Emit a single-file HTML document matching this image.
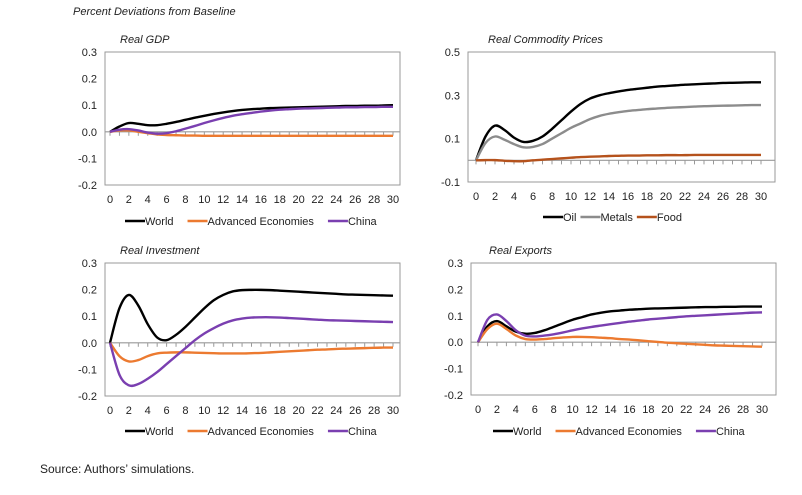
<!DOCTYPE html>
<html><head><meta charset="utf-8"><style>
body{margin:0;background:#fff;width:802px;height:490px;overflow:hidden;font-family:"Liberation Sans",Arial,sans-serif}
svg text{font-family:"Liberation Sans",Arial,sans-serif}
</style></head><body>
<svg id="s" width="802" height="490">
<text x="73" y="15" font-size="11" font-style="italic" fill="#222">Percent Deviations from Baseline</text>
<text x="40" y="473" font-size="12" fill="#222">Source: Authors’ simulations.</text>
</svg>
<script>
const periods=[...Array(31).keys()];
const gdpWorld=[0,0.02,0.033,0.03,0.025,0.025,0.03,0.037,0.045,0.053,0.06,0.067,0.073,0.078,0.082,0.085,0.087,0.089,0.09,0.091,0.092,0.093,0.094,0.095,0.096,0.097,0.097,0.098,0.098,0.099,0.1];
const gdpAdv=[0,0.005,0.005,0,-0.005,-0.01,-0.012,-0.013,-0.014,-0.014,-0.015,-0.015,-0.015,-0.015,-0.015,-0.015,-0.015,-0.015,-0.015,-0.015,-0.015,-0.015,-0.015,-0.015,-0.015,-0.015,-0.015,-0.015,-0.015,-0.015,-0.015];
const gdpChina=[0,0.008,0.01,0.005,-0.003,-0.007,-0.005,0.002,0.012,0.022,0.033,0.043,0.052,0.06,0.066,0.071,0.076,0.08,0.083,0.085,0.087,0.088,0.089,0.09,0.091,0.092,0.092,0.093,0.093,0.094,0.094];
const oil=[0,0.11,0.16,0.14,0.105,0.085,0.09,0.11,0.145,0.185,0.225,0.26,0.285,0.3,0.31,0.318,0.325,0.33,0.335,0.34,0.343,0.346,0.349,0.351,0.353,0.355,0.357,0.358,0.359,0.36,0.36];
const metals=[0,0.08,0.11,0.095,0.075,0.06,0.062,0.075,0.1,0.125,0.15,0.17,0.19,0.205,0.215,0.222,0.228,0.232,0.236,0.239,0.242,0.244,0.246,0.248,0.25,0.251,0.252,0.253,0.254,0.255,0.255];
const food=[0,0.001,0.001,-0.002,-0.004,-0.004,0,0.003,0.006,0.009,0.012,0.015,0.017,0.018,0.02,0.021,0.022,0.022,0.023,0.023,0.024,0.024,0.024,0.025,0.025,0.025,0.025,0.025,0.025,0.025,0.025];
const invWorld=[0,0.13,0.18,0.14,0.07,0.02,0.01,0.03,0.06,0.095,0.13,0.16,0.18,0.193,0.198,0.199,0.199,0.198,0.196,0.194,0.192,0.19,0.188,0.186,0.184,0.182,0.181,0.18,0.179,0.178,0.177];
const invAdv=[0,-0.05,-0.07,-0.065,-0.05,-0.04,-0.037,-0.036,-0.036,-0.037,-0.038,-0.039,-0.04,-0.04,-0.04,-0.039,-0.038,-0.036,-0.034,-0.032,-0.03,-0.028,-0.026,-0.025,-0.023,-0.022,-0.021,-0.02,-0.019,-0.018,-0.018];
const invChina=[0,-0.12,-0.16,-0.155,-0.135,-0.11,-0.08,-0.05,-0.02,0.01,0.035,0.055,0.072,0.084,0.091,0.095,0.096,0.096,0.095,0.093,0.091,0.089,0.087,0.085,0.084,0.083,0.082,0.081,0.08,0.079,0.078];
const expWorld=[0,0.06,0.08,0.06,0.04,0.032,0.035,0.045,0.058,0.072,0.085,0.095,0.105,0.112,0.117,0.12,0.123,0.125,0.127,0.128,0.129,0.13,0.131,0.132,0.133,0.133,0.134,0.134,0.135,0.135,0.135];
const expAdv=[0,0.05,0.07,0.05,0.025,0.012,0.01,0.012,0.015,0.018,0.02,0.02,0.019,0.017,0.015,0.012,0.01,0.007,0.004,0.001,-0.002,-0.004,-0.006,-0.008,-0.01,-0.012,-0.013,-0.014,-0.015,-0.016,-0.017];
const expChina=[0,0.085,0.105,0.08,0.045,0.025,0.022,0.025,0.03,0.037,0.045,0.052,0.058,0.063,0.068,0.073,0.078,0.082,0.086,0.089,0.092,0.095,0.098,0.1,0.102,0.104,0.106,0.108,0.11,0.112,0.113];
const ticks3=[0.3,0.2,0.1,0.0,-0.1,-0.2];
const ticksCom=[0.5,0.3,0.1,-0.1];
const xTickLabels=[0,2,4,6,8,10,12,14,16,18,20,22,24,26,28,30];

const NS="http://www.w3.org/2000/svg";const svg=document.getElementById('s');
function mk(t,a,p){const e=document.createElementNS(NS,t);for(const k in a)e.setAttribute(k,a[k]);(p||svg).appendChild(e);return e;}
function smooth(pts){let d='M'+pts[0][0]+','+pts[0][1];
  for(let i=0;i<pts.length-1;i++){const p0=pts[i-1]||pts[i],p1=pts[i],p2=pts[i+1],p3=pts[i+2]||p2;
    const c1=[p1[0]+(p2[0]-p0[0])/6,p1[1]+(p2[1]-p0[1])/6],c2=[p2[0]-(p3[0]-p1[0])/6,p2[1]-(p3[1]-p1[1])/6];
    d+=' C'+c1[0]+','+c1[1]+' '+c2[0]+','+c2[1]+' '+p2[0]+','+p2[1];}
  return d;}
const BLACK="#000",ORANGE="#ec7a30",PURPLE="#7a3fb0",GREY="#8c8c8c",BROWN="#b5521c";
function chart(o){
  const g=mk('g',{});
  
  
  const X=v=>o.x0+(o.x1-o.x0)*v/30;
  const Y=v=>o.top+(o.ymax-v)/(o.ymax-o.ymin)*(o.bot-o.top);
  const t=mk('text',{x:o.tx,y:o.top-9,'font-size':11,'font-style':'italic',fill:'#222'},g);t.textContent=o.title;
  
  const f=mk('rect',{x:o.L,y:o.top,width:o.R-o.L,height:o.bot-o.top,fill:'none',stroke:'#999','stroke-width':1},g);
  
  o.ticks.forEach(v=>{const l=mk('text',{x:o.L-8,y:Y(v)+4,'font-size':11,'text-anchor':'end',fill:'#222'},g);l.textContent=v.toFixed(1);
    });
  const z=mk('line',{x1:o.L,x2:o.R,y1:Y(0),y2:Y(0),stroke:'#999','stroke-width':1.2},g);
  
  periods.forEach(p=>{mk('line',{x1:X(p),x2:X(p),y1:Y(0),y2:Y(0)+4,stroke:'#999'},g);});
  xTickLabels.forEach(v=>{const l=mk('text',{x:X(v),y:o.bot+18,'font-size':11,'text-anchor':'middle',fill:'#222'},g);l.textContent=v;
    });
  o.series.forEach(s=>{const p=mk('path',{d:smooth(s.d.map((v,i)=>[X(periods[i]),Y(v)])),fill:'none',stroke:s.c,'stroke-width':2.4,'stroke-linejoin':'round'},g);
    });
  let lx=o.lx;
  o.series.forEach(s=>{const lg=mk('g',{},g);
    
    mk('line',{x1:lx,x2:lx+20,y1:o.ly-4,y2:o.ly-4,stroke:s.c,'stroke-width':2.6},lg);
    const tt=mk('text',{x:lx+20,y:o.ly,'font-size':11,fill:'#222'},lg);tt.textContent=s.n;
    lx+=20+tt.getComputedTextLength()+o.gap;});
}
chart({name:'real-gdp-chart',title:'Real GDP',tx:120,L:105,R:400,top:52,bot:185,x0:110,x1:393,ymax:0.3,ymin:-0.2,ticks:ticks3,lx:125,ly:225,gap:14,
  series:[{id:'world',n:'World',c:BLACK,d:gdpWorld},{id:'advanced',n:'Advanced Economies',c:ORANGE,d:gdpAdv},{id:'china',n:'China',c:PURPLE,d:gdpChina}]});
chart({name:'commodity-prices-chart',title:'Real Commodity Prices',tx:488,L:468,R:775,top:52,bot:182,x0:476,x1:761,ymax:0.5,ymin:-0.1,ticks:ticksCom,lx:543,ly:221,gap:4,
  series:[{id:'oil',n:'Oil',c:BLACK,d:oil},{id:'metals',n:'Metals',c:GREY,d:metals},{id:'food',n:'Food',c:BROWN,d:food}]});
chart({name:'real-investment-chart',title:'Real Investment',tx:120,L:105,R:400,top:263,bot:396,x0:110,x1:393,ymax:0.3,ymin:-0.2,ticks:ticks3,lx:125,ly:435,gap:14,
  series:[{id:'world',n:'World',c:BLACK,d:invWorld},{id:'advanced',n:'Advanced Economies',c:ORANGE,d:invAdv},{id:'china',n:'China',c:PURPLE,d:invChina}]});
chart({name:'real-exports-chart',title:'Real Exports',tx:489,L:471,R:776,top:263,bot:395,x0:478,x1:762,ymax:0.3,ymin:-0.2,ticks:ticks3,lx:493,ly:435,gap:14,
  series:[{id:'world',n:'World',c:BLACK,d:expWorld},{id:'advanced',n:'Advanced Economies',c:ORANGE,d:expAdv},{id:'china',n:'China',c:PURPLE,d:expChina}]});
</script>
</body></html>
